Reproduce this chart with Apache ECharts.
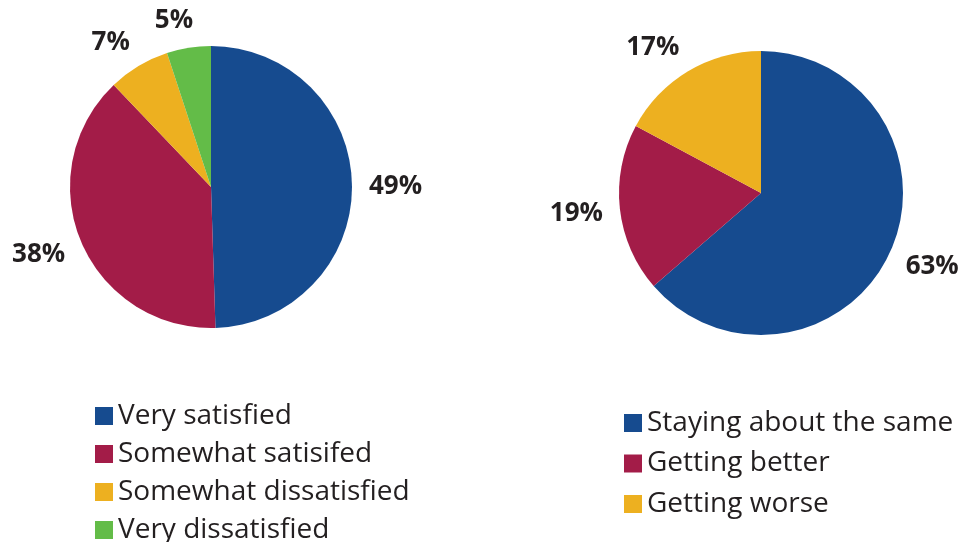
<!DOCTYPE html>
<html>
<head>
<meta charset="utf-8">
<script src="https://cdn.jsdelivr.net/npm/echarts@6/dist/echarts.min.js"></script>
<style>
  html, body { margin: 0; padding: 0; background: #fff; }
  #chart { width: 966px; height: 542px; }
</style>
</head>
<body>
<div id="chart"></div>
<script>
// Satisfaction breakdown (left pie)
const satisfactionLabels = ['Very satisfied', 'Somewhat satisifed', 'Somewhat dissatisfied', 'Very dissatisfied'];
const satisfactionValues = [49, 38, 7, 5];

// Trend breakdown (right pie)
const trendLabels = ['Staying about the same', 'Getting better', 'Getting worse'];
const trendValues = [63, 19, 17];

const palette = ['#164B8F', '#A31C48', '#EDB020', '#63BC48'];
const FONT = '"Open Sans", Lato, sans-serif';
const LABEL_GAP = 17;   // distance from rim to the label anchor
const GLYPH_H = 26;     // effective height of the percentage text box
const BASELINE_NUDGE = 2; // optical correction for the digits' vertical centre

const chart = echarts.init(document.getElementById('chart'));

function slices(labels, values) {
  return labels.map((n, i) => ({ name: n, value: values[i], itemStyle: { color: palette[i] } }));
}

// The filled pie itself
function pieSeries(labels, values, center, r) {
  return {
    type: 'pie',
    center: center,
    radius: r,
    startAngle: 90,
    clockwise: true,
    animation: false,
    silent: true,
    data: slices(labels, values),
    itemStyle: { borderWidth: 0 },
    label: { show: false },
    labelLine: { show: false }
  };
}

// Transparent ring around the pie carrying the percentage labels. The ring's
// inside label gives the slice's mid-angle direction; the label is then set
// just beyond the rim on that direction, hanging off the anchor on the
// outward side (like an "outside end" data label).
function labelRing(labels, values, center, r) {
  return {
    type: 'pie',
    center: center,
    radius: [r, r + 90],
    startAngle: 90,
    clockwise: true,
    animation: false,
    silent: true,
    legendHoverLink: false,
    data: labels.map((n, i) => ({ name: n, value: values[i] })),
    itemStyle: { color: 'rgba(0,0,0,0)', borderWidth: 0 },
    label: {
      show: true,
      position: 'inside',
      formatter: '{c}%',
      fontFamily: FONT,
      fontWeight: 'bold',
      fontSize: 26,
      lineHeight: 28,
      color: '#231F20'
    },
    labelLine: { show: false },
    labelLayout: function (p) {
      const lr = p.labelRect;
      const dx = lr.x + lr.width / 2 - center[0];
      const dy = lr.y + lr.height / 2 - center[1];
      const len = Math.sqrt(dx * dx + dy * dy) || 1;
      const ux = dx / len, uy = dy / len;
      const d = r + LABEL_GAP;
      const ax = center[0] + ux * d;
      const ay = center[1] + uy * d;
      const side = ux >= 0 ? 1 : -1;
      const k = Math.min(1, Math.abs(ux) * 4);
      return {
        x: ax + side * k * lr.width / 2,
        y: ay + uy * GLYPH_H / 2 + BASELINE_NUDGE
      };
    }
  };
}

function legendBlock(names, left, top, gap) {
  return {
    data: names,
    orient: 'vertical',
    left: left,
    top: top,
    height: 170,
    icon: 'rect',
    itemWidth: 18,
    itemHeight: 18,
    itemGap: gap,
    selectedMode: false,
    textStyle: { fontFamily: FONT, fontSize: 28, lineHeight: 28, color: '#231F20' }
  };
}

chart.setOption({
  backgroundColor: '#fff',
  legend: [
    legendBlock(satisfactionLabels, 90, 397, 10),
    legendBlock(trendLabels, 619, 404, 12.5)
  ],
  series: [
    pieSeries(satisfactionLabels, satisfactionValues, [211, 187], 141),
    pieSeries(trendLabels, trendValues, [761, 193], 142),
    labelRing(satisfactionLabels, satisfactionValues, [211, 187], 141),
    labelRing(trendLabels, trendValues, [761, 193], 142)
  ]
});
</script>
</body>
</html>
